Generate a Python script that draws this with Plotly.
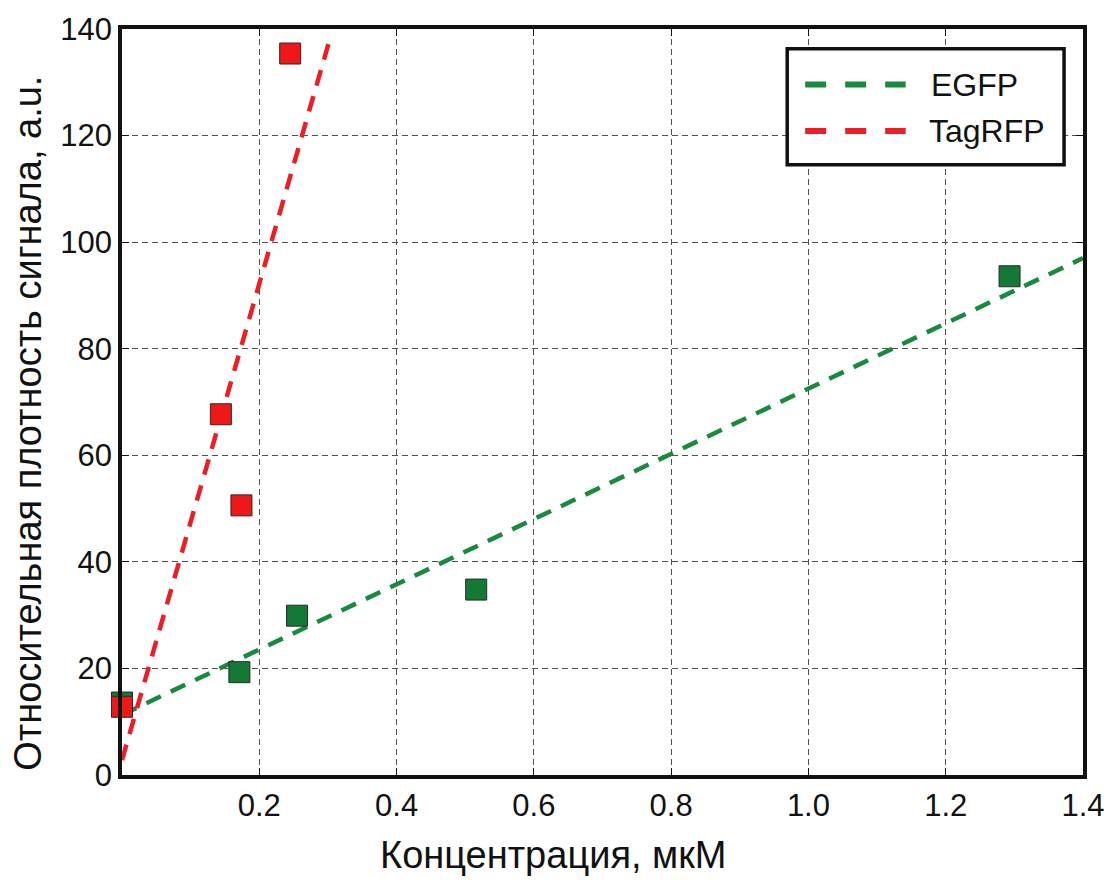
import plotly.graph_objects as go

# Data
egfp_x = [0.0, 0.171, 0.255, 0.516, 1.293]
egfp_y = [13.6, 19.3, 29.9, 34.8, 93.6]
tag_x = [0.0, 0.144, 0.174, 0.245]
tag_y = [12.8, 67.7, 50.6, 135.4]

# Fitted trend lines (endpoints)
egfp_fit_x = [0.0, 1.4]
egfp_fit_y = [11.3, 97.0]
tag_fit_x = [0.0, 0.303]
tag_fit_y = [2.8, 138.2]

x_ticks = [0.2, 0.4, 0.6, 0.8, 1.0, 1.2, 1.4]
x_tick_text = ["0.2", "0.4", "0.6", "0.8", "1.0", "1.2", "1.4"]
y_ticks = [0, 20, 40, 60, 80, 100, 120, 140]

series_names = ["EGFP", "TagRFP"]

GREEN_M = "#137934"
GREEN_L = "#178a3e"
RED_M = "#ee1818"
RED_L = "#ee1c25"
INK = "#111111"
DASH = "16px,11px"

fig = go.Figure()
fig.add_trace(go.Scatter(x=egfp_fit_x, y=egfp_fit_y, mode="lines", name=series_names[0],
                         showlegend=False,
                         line=dict(color=GREEN_L, width=4.5, dash=DASH)))
fig.add_trace(go.Scatter(x=tag_fit_x, y=tag_fit_y, mode="lines", name=series_names[1],
                         showlegend=False,
                         line=dict(color=RED_L, width=4.5, dash=DASH)))
fig.add_trace(go.Scatter(x=egfp_x, y=egfp_y, mode="markers", showlegend=False,
                         cliponaxis=False, name=series_names[0] + " data",
                         marker=dict(symbol="square", size=21, color=GREEN_M,
                                     line=dict(color="#2a2a2a", width=1))))
fig.add_trace(go.Scatter(x=tag_x, y=tag_y, mode="markers", showlegend=False,
                         cliponaxis=False, name=series_names[1] + " data",
                         marker=dict(symbol="square", size=21, color=RED_M,
                                     line=dict(color="#2a2a2a", width=1))))

font_family = "Liberation Sans, Arial, sans-serif"
grid = dict(showgrid=True, gridcolor="#505050", gridwidth=1, griddash="6px,4px")

# Legend drawn as a framed box with dashed samples and text labels
shapes = [
    dict(type="rect", xref="paper", yref="paper", x0=0.6922, x1=0.9803, y0=0.8181, y1=0.9734,
         line=dict(color=INK, width=3.5), fillcolor="white", layer="above"),
    dict(type="line", xref="paper", yref="paper", x0=0.7109, x1=0.8155, y0=0.9256, y1=0.9256,
         line=dict(color=GREEN_L, width=6, dash="21px,19px"), layer="above"),
    dict(type="line", xref="paper", yref="paper", x0=0.7109, x1=0.8155, y0=0.8632, y1=0.8632,
         line=dict(color=RED_L, width=6, dash="21px,19px"), layer="above"),
]
annotations = [
    dict(text=series_names[0], xref="paper", yref="paper", x=0.8394, y=0.9256,
         xanchor="left", yanchor="middle", showarrow=False, font=dict(size=32, color=INK)),
    dict(text=series_names[1], xref="paper", yref="paper", x=0.8374, y=0.8632,
         xanchor="left", yanchor="middle", showarrow=False, font=dict(size=32, color=INK)),
    dict(text="Концентрация, мкМ", xref="paper", yref="paper", x=0.449, y=-0.1076,
         xanchor="center", yanchor="middle", showarrow=False, font=dict(size=38, color=INK)),
    dict(text="Относительная плотность сигнала, a.u.", xref="paper", yref="paper",
         x=-0.0974, y=0.4714, textangle=-90, xanchor="center", yanchor="middle",
         showarrow=False, font=dict(size=38, color=INK)),
]

fig.update_layout(
    width=1117, height=880,
    margin=dict(l=122, r=30, t=22, b=105),
    paper_bgcolor="white", plot_bgcolor="white",
    font=dict(family=font_family, color=INK),
    showlegend=False,
    shapes=shapes,
    annotations=annotations,
    xaxis=dict(range=[0, 1.4], tickvals=x_ticks, ticktext=x_tick_text,
               ticks="inside", ticklen=7, tickcolor=INK,
               showline=True, linecolor=INK, linewidth=3.5, mirror="ticks",
               zeroline=False, tickfont=dict(size=31), **grid),
    yaxis=dict(range=[0, 140], tickvals=y_ticks,
               ticks="inside", ticklen=7, tickcolor=INK,
               showline=True, linecolor=INK, linewidth=3.5, mirror="ticks",
               zeroline=False, tickfont=dict(size=31), **grid),
)

fig.write_html("out.html")
